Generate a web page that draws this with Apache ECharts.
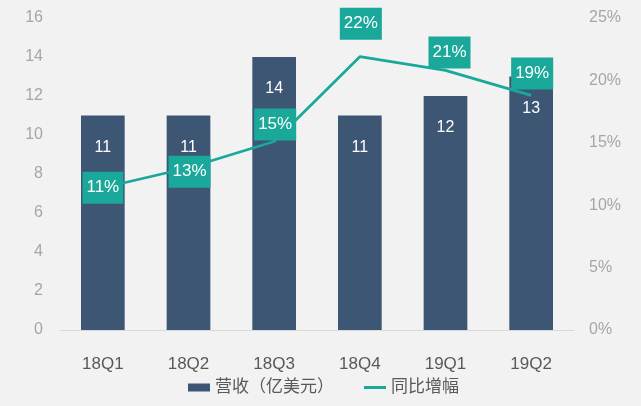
<!DOCTYPE html>
<html><head><meta charset="utf-8">
<script src="https://cdn.jsdelivr.net/npm/echarts@6/dist/echarts.min.js"></script>
<style>html,body{margin:0;padding:0;background:#f2f2f2;}#c{width:641px;height:406px;}</style>
</head><body><div id="c"></div>
<script>
const categories = ['18Q1','18Q2','18Q3','18Q4','19Q1','19Q2'];
const revenue = [11, 11, 14, 11, 12, 13];
const growth = [11.4, 13.0, 15.1, 21.9, 20.8, 18.8];
const growthLabels = ['11%','13%','15%','22%','21%','19%'];
const leftTicks = {min: 0, max: 16, interval: 2};
const rightTicks = {min: 0, max: 25, interval: 5};
const labelOffsets = [[0,0],[1,4],[1,-17],[1,-33],[4,-18],[1,-22]];

const chart = echarts.init(document.getElementById('c'));
const font = 'Arial, "Liberation Sans", "Noto Sans CJK SC", sans-serif';
chart.setOption({
  backgroundColor: '#f2f2f2',
  animation: false,
  textStyle: {fontFamily: font},
  grid: {left: 60, right: 67, top: 18, bottom: 76},
  legend: {
    bottom: 5, left: 183, itemWidth: 22, itemHeight: 8, itemGap: 30,
    textStyle: {fontSize: 17, color: '#595959', fontFamily: font},
    data: [{name: '营收（亿美元）', icon: 'rect'},
           {name: '同比增幅', icon: 'path://M0,0h22v3h-22z', itemStyle: {color: '#1aa89a', opacity: 1}}]
  },
  xAxis: {
    type: 'category', data: categories,
    axisLine: {lineStyle: {color: '#d9d9d9'}},
    axisTick: {show: false},
    axisLabel: {color: '#595959', fontSize: 17, margin: 26}
  },
  yAxis: [
    {type: 'value', min: leftTicks.min, max: leftTicks.max, interval: leftTicks.interval,
     splitLine: {show: false}, axisLine: {show: false}, axisTick: {show: false},
     axisLabel: {color: '#a6a6a6', fontSize: 16, margin: 17}},
    {type: 'value', min: rightTicks.min, max: rightTicks.max, interval: rightTicks.interval,
     splitLine: {show: false}, axisLine: {show: false}, axisTick: {show: false},
     axisLabel: {color: '#a6a6a6', fontSize: 16, margin: 15, formatter: '{value}%'}}
  ],
  series: [
    {name: '营收（亿美元）', type: 'bar', data: revenue, barWidth: '51%',
     itemStyle: {color: '#3c5674'},
     label: {show: true, position: 'insideTop', distance: 24, color: '#fff', fontSize: 16}},
    {name: '同比增幅', type: 'line', yAxisIndex: 1, symbol: 'circle', symbolSize: 1, showSymbol: true,
     lineStyle: {color: '#1aa89a', width: 2.7}, itemStyle: {color: 'rgba(26,168,154,0)', borderWidth: 0},
     data: growth.map((v, i) => ({value: v, label: {offset: labelOffsets[i]}})),
     label: {show: true, position: 'inside', color: '#fff', fontSize: 17,
       backgroundColor: '#1aa89a', padding: [8, 4, 7, 4],
       formatter: p => growthLabels[p.dataIndex]}}
  ]
});
</script></body></html>
